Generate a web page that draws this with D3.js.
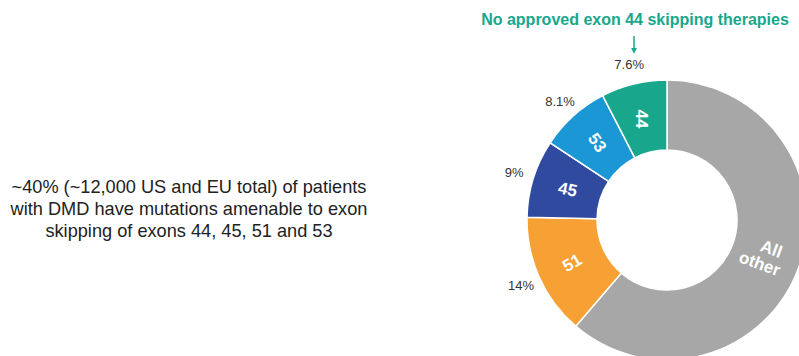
<!DOCTYPE html>
<html>
<head>
<meta charset="utf-8">
<script src="https://cdn.jsdelivr.net/npm/d3@7"></script>
<style>
  html, body { margin: 0; padding: 0; background: #fff; }
  svg { display: block; font-family: "Liberation Sans", Arial, sans-serif; }
</style>
</head>
<body>
<svg id="chart" width="799" height="356"></svg>
<script>
// Share of DMD patients by amenable exon, clockwise from 12 o'clock
const segments = ["All other", "51", "45", "53", "44"];
const shares = [61.3, 14, 9, 8.1, 7.6];
const shareLabels = ["", "14%", "9%", "8.1%", "7.6%"];
const segmentColors = ["#a7a7a7", "#f7a034", "#2f4a9f", "#1c97d6", "#18a78d"];

const summaryLines = [
  "~40% (~12,000 US and EU total) of patients",
  "with DMD have mutations amenable to exon",
  "skipping of exons 44, 45, 51 and 53"
];
const calloutText = "No approved exon 44 skipping therapies";

// label tilt (degrees) for each segment's name
const labelTilt = [20, -30, 12, 55, 90];

const svg = d3.select("#chart");
const cx = 667, cy = 220;
const innerR = 70, outerR = 140;

const pie = d3.pie().sort(null).value(d => d);
const arcs = pie(shares);

const arc = d3.arc().innerRadius(innerR).outerRadius(outerR);
const labelArc = d3.arc().innerRadius(104).outerRadius(104);
const pctArc = d3.arc().innerRadius(160).outerRadius(160);

const g = svg.append("g").attr("transform", `translate(${cx},${cy})`);

g.selectAll("path.seg")
  .data(arcs)
  .join("path")
  .attr("class", "seg")
  .attr("d", arc)
  .attr("fill", (d, i) => segmentColors[i])
  .attr("stroke", "#ffffff")
  .attr("stroke-width", 1.5)
  .attr("stroke-linejoin", "round");

// segment names inside the ring
arcs.forEach((d, i) => {
  const [x, y] = labelArc.centroid(d);
  const t = g.append("text")
    .attr("transform", `translate(${x},${y}) rotate(${labelTilt[i]})`)
    .attr("text-anchor", "middle")
    .attr("fill", "#ffffff")
    .attr("font-weight", "bold")
    .attr("font-size", 17);
  const words = segments[i].split(" ");
  if (words.length === 1) {
    t.append("tspan").attr("x", 0).attr("dy", "0.35em").text(words[0]);
  } else {
    t.append("tspan").attr("x", 4).attr("dy", "-0.2em").text(words[0]);
    t.append("tspan").attr("x", -2).attr("dy", "1.05em").text(words[1]);
  }
});

// percentage labels outside the ring
g.selectAll("text.pct")
  .data(arcs.filter((d, i) => shareLabels[i] !== ""))
  .join("text")
  .attr("class", "pct")
  .attr("transform", d => {
    const [x, y] = pctArc.centroid(d);
    return `translate(${x},${y})`;
  })
  .attr("text-anchor", "middle")
  .attr("dy", "0.35em")
  .attr("font-size", 13)
  .attr("fill", "#333")
  .text(d => shareLabels[d.index]);

// callout above the exon 44 segment
const teal = segmentColors[4];
svg.append("text")
  .attr("x", 635)
  .attr("y", 25)
  .attr("text-anchor", "middle")
  .attr("font-weight", "bold")
  .attr("font-size", 16)
  .attr("fill", teal)
  .text(calloutText);

svg.append("defs").append("marker")
  .attr("id", "arrowhead")
  .attr("viewBox", "0 0 10 10")
  .attr("refX", 2).attr("refY", 5)
  .attr("markerWidth", 4).attr("markerHeight", 4)
  .attr("orient", "auto")
  .append("path")
  .attr("d", "M0,0 L10,5 L0,10 Z")
  .attr("fill", teal);

svg.append("line")
  .attr("x1", 634).attr("x2", 634)
  .attr("y1", 36).attr("y2", 49)
  .attr("stroke", teal)
  .attr("stroke-width", 1.5)
  .attr("marker-end", "url(#arrowhead)");

// summary text on the left
svg.append("g")
  .selectAll("text")
  .data(summaryLines)
  .join("text")
  .attr("x", 189)
  .attr("y", (d, i) => 193 + i * 22)
  .attr("text-anchor", "middle")
  .attr("font-size", 18.2)
  .attr("fill", "#222")
  .text(d => d);
</script>
</body>
</html>
